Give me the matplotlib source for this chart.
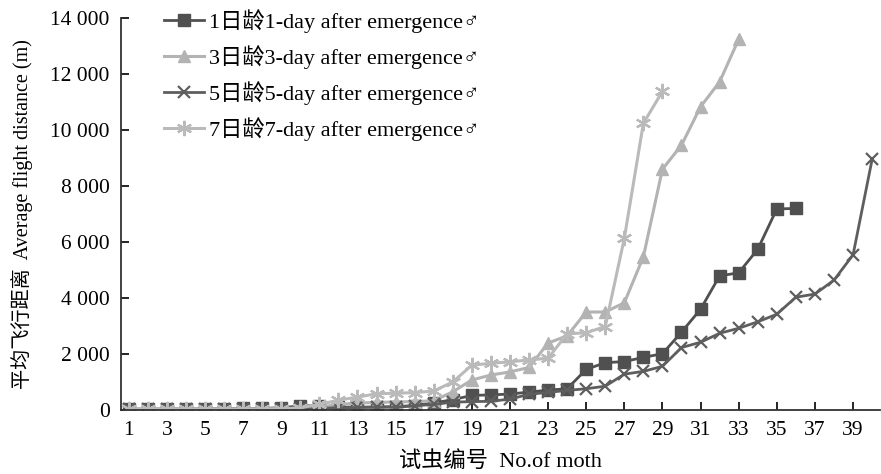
import numpy as np
import matplotlib
matplotlib.use("Agg")
import matplotlib.pyplot as plt
from matplotlib.ticker import FuncFormatter, MultipleLocator

plt.rcParams["font.family"] = ["Liberation Serif", "DejaVu Sans", "Noto Sans CJK SC"]

# ── Data ──────────────────────────────────────────────────────────────────────
day1 = [30, 35, 40, 40, 45, 50, 55, 60, 80, 150, 150, 110, 100, 110, 120, 160,
        250, 370, 520, 540, 570, 640, 710, 760, 1450, 1690, 1730, 1880, 2010,
        2780, 3600, 4790, 4900, 5740, 7180, 7200]
day3 = [40, 40, 40, 40, 40, 40, 40, 45, 50, 60, 100, 200, 250, 270, 290, 300,
        330, 650, 1070, 1250, 1360, 1520, 2390, 2650, 3500, 3500, 3830, 5470,
        8600, 9460, 10830, 11720, 13240]
day5 = [20, 20, 20, 20, 20, 20, 20, 25, 30, 40, 60, 80, 90, 100, 100, 150,
        200, 280, 300, 310, 390, 560, 630, 700, 760, 850, 1280, 1380, 1560,
        2230, 2420, 2740, 2920, 3150, 3420, 4030, 4140, 4640, 5540, 8950]
day7 = [30, 30, 30, 30, 30, 30, 30, 35, 40, 80, 200, 350, 460, 580, 600, 620,
        680, 1000, 1600, 1670, 1720, 1790, 1850, 2720, 2760, 2980, 6130, 10240,
        11380]

labels = ["1日龄1-day after emergence♂", "3日龄3-day after emergence♂",
          "5日龄5-day after emergence♂", "7日龄7-day after emergence♂"]

DARK = "#505050"
DARK2 = "#5e5e5e"
LIGHT = "#b3b3b3"
LIGHT2 = "#bababa"

# ── Plot ──────────────────────────────────────────────────────────────────────
fig = plt.figure(figsize=(8.81, 4.74), dpi=100)
ax = fig.add_axes([0.137, 0.135, 0.862, 0.827])

def xs(vals):
    return np.arange(1, len(vals) + 1)

ax.plot(xs(day1), day1, color=DARK, lw=2, marker="s", ms=9, mec=DARK,
        label=labels[0])
ax.plot(xs(day3), day3, color=LIGHT, lw=2.2, marker="^", ms=9, mec=LIGHT,
        label=labels[1])
ax.plot(xs(day5), day5, color=DARK2, lw=2, marker="x", ms=9, mew=1.6,
        label=labels[2])
ax.plot(xs(day7), day7, color=LIGHT2, lw=2.2, marker=(6, 2, 0), ms=11, mew=1.6,
        label=labels[3])

ax.set_xlim(0.58, 40.42)
ax.set_ylim(0, 14000)
ax.set_xticks(np.arange(1, 40, 2))
ax.yaxis.set_major_locator(MultipleLocator(2000))
ax.yaxis.set_major_formatter(
    FuncFormatter(lambda v, p: f"{int(v):,}".replace(",", " ")))
ax.tick_params(direction="in", length=6, width=1.2, labelsize=15.5, pad=8)
ax.spines[["top", "right"]].set_visible(False)
for s in ("left", "bottom"):
    ax.spines[s].set_linewidth(1.3)
    ax.spines[s].set_color("#333333")

ax.set_xlabel("试虫编号  No.of moth", fontsize=16, labelpad=8)
ax.set_ylabel("平均飞行距离  Average flight distance (m)", fontsize=14.5,
              labelpad=12)

ax.legend(loc="upper left", bbox_to_anchor=(0.045, 1.045), frameon=False,
          fontsize=16, handlelength=1.8, handletextpad=0.25,
          labelspacing=0.55, borderaxespad=0)

fig.savefig("out.png", dpi=100)
